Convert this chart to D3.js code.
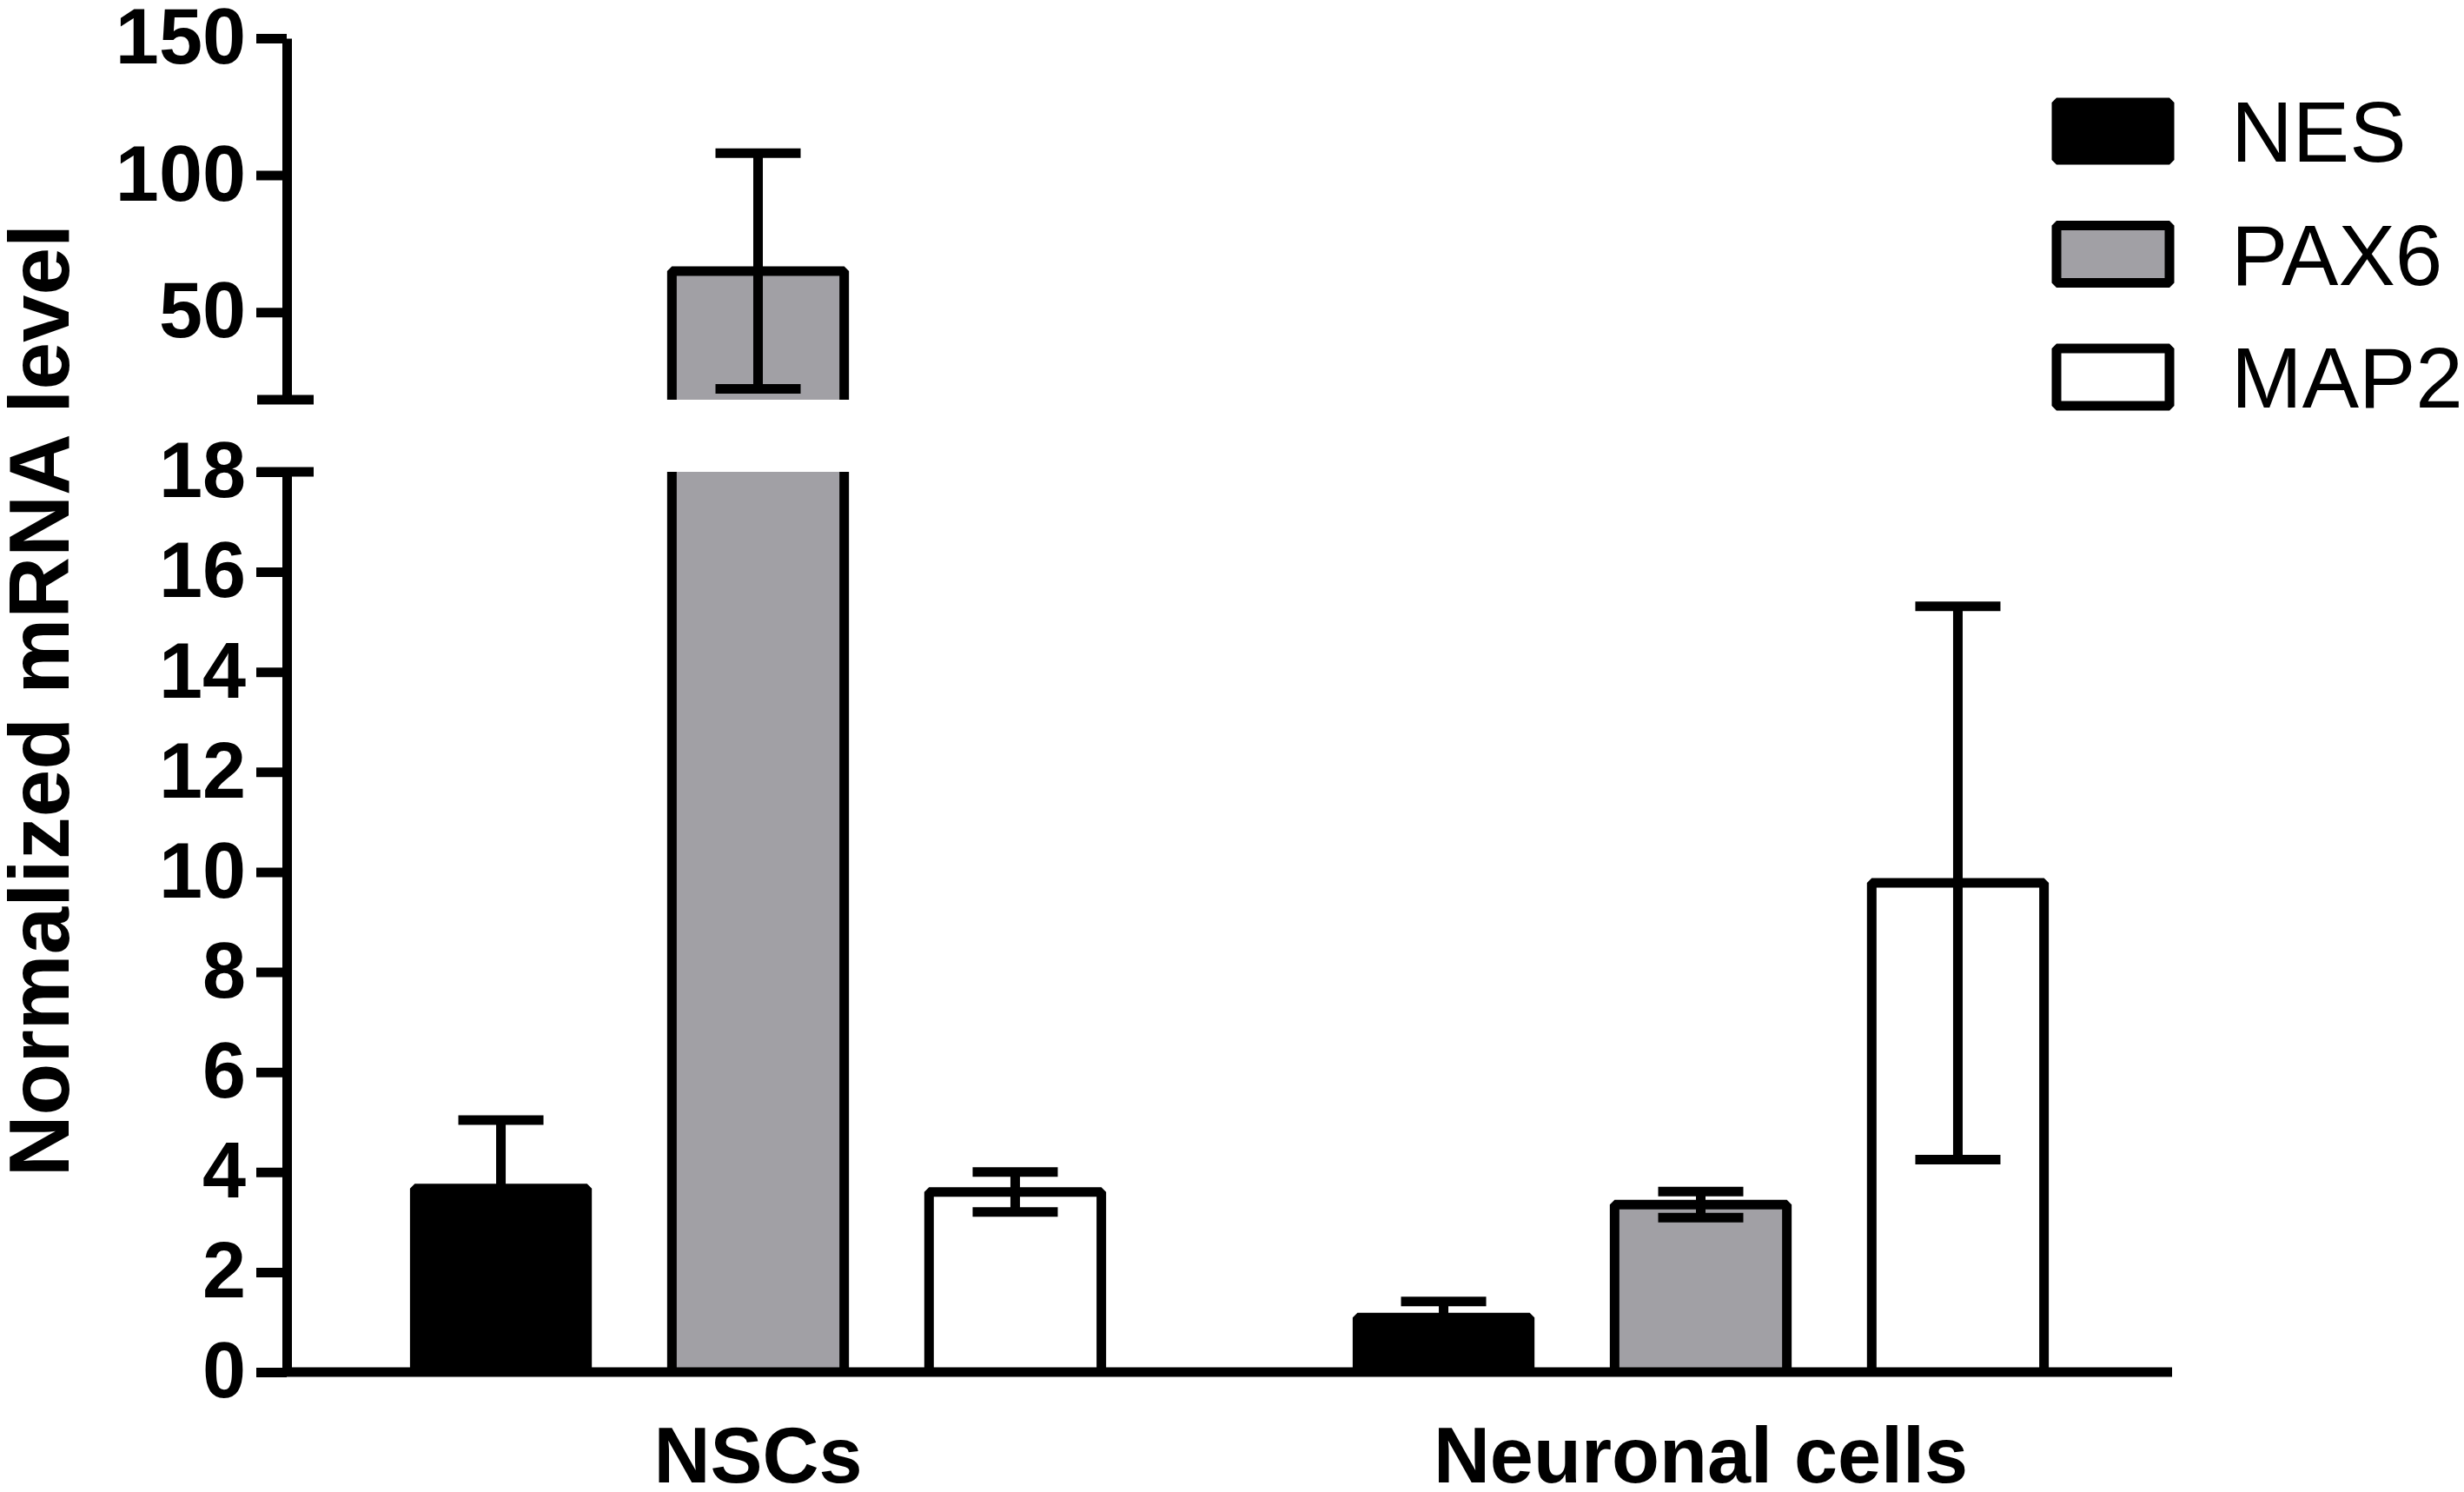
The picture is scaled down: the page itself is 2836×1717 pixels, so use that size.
<!DOCTYPE html>
<html>
<head>
<meta charset="utf-8">
<script src="https://cdnjs.cloudflare.com/ajax/libs/d3/7.8.5/d3.min.js"></script>
<style>
	body { margin: 0; background: #fff; }
	text { font-family: "Liberation Sans", Arial, Helvetica, sans-serif; }
</style>
</head>
<body>
<script>
	// data
	let groups = ["NSCs", "Neuronal cells"];
	let genes = ["NES", "PAX6", "MAP2"];
	let nesMean = [3.67, 1.09];
	let nesSd = [1.37, 0.32];
	let pax6Mean = [65, 3.35];
	let pax6Sd = [43, 0.26];
	let map2Mean = [3.6, 9.78];
	let map2Sd = [0.40, 5.53];
	let lowerTicks = [0, 2, 4, 6, 8, 10, 12, 14, 16, 18];
	let upperTicks = [50, 100, 150];
	let lowerRange = [0, 18];
	let upperRange = [18, 150];

	let width = 2836;
	let height = 1717;
	let axisX = 330;
	let lineW = 11;
	let fills = { NES: "#000000", PAX6: "#a1a0a5", MAP2: "#ffffff" };

	let data = genes.map(function(g) {
		let m = g === "NES" ? nesMean : g === "PAX6" ? pax6Mean : map2Mean;
		let s = g === "NES" ? nesSd : g === "PAX6" ? pax6Sd : map2Sd;
		return groups.map((grp, i) => ({ group: grp, gene: g, mean: m[i], sd: s[i] }));
	});
	let flat = d3.merge(data);

	let svg = d3.select("body").append("svg")
		.attr("width", width)
		.attr("height", height);

	/* Scales */
	let x0 = d3.scaleBand().domain(groups).range([axisX, 2500]).paddingInner(0).paddingOuter(0);
	let x1 = d3.scaleBand().domain(genes).range([0, x0.bandwidth()]).paddingInner(0.33).paddingOuter(0.498);
	let yLow = d3.scaleLinear().domain(lowerRange).range([1579, 543]);
	let yHigh = d3.scaleLinear().domain(upperRange).range([460, 44]);

	let segments = [
		{ y: yLow, min: lowerRange[0], max: lowerRange[1] },
		{ y: yHigh, min: upperRange[0], max: upperRange[1] }
	];

	/* Bars, cut at the axis break */
	let bars = svg.append("g").attr("class", "bars");
	segments.forEach(function(seg) {
		flat.filter(d => d.mean > seg.min).forEach(function(d) {
			let xa = x0(d.group) + x1(d.gene);
			let xb = xa + x1.bandwidth();
			let top = Math.min(d.mean, seg.max);
			let yt = seg.y(top);
			let yb = seg.y(seg.min);
			bars.append("rect")
				.attr("x", xa)
				.attr("y", yt)
				.attr("width", xb - xa)
				.attr("height", yb - yt)
				.attr("fill", fills[d.gene]);
			let p = d3.path();
			p.moveTo(xa, yb);
			p.lineTo(xa, yt);
			if (d.mean <= seg.max) p.lineTo(xb, yt);
			else p.moveTo(xb, yt);
			p.lineTo(xb, yb);
			bars.append("path")
				.attr("d", p.toString())
				.attr("fill", "none")
				.attr("stroke", "#000")
				.attr("stroke-width", lineW)
				.attr("stroke-linejoin", "bevel");
		});
	});

	/* Error bars (mean +/- SD) */
	let errs = svg.append("g").attr("class", "errors").attr("stroke", "#000").attr("stroke-width", lineW);
	let capHalf = 49;
	segments.forEach(function(seg) {
		flat.forEach(function(d) {
			let cx = x0(d.group) + x1(d.gene) + x1.bandwidth() / 2;
			let lo = d.mean - d.sd, hi = d.mean + d.sd;
			let a = Math.max(lo, seg.min), b = Math.min(hi, seg.max);
			if (a < b) {
				errs.append("line").attr("x1", cx).attr("x2", cx).attr("y1", seg.y(a)).attr("y2", seg.y(b));
			}
			[lo, hi].forEach(function(v) {
				if (v >= seg.min && v <= seg.max) {
					errs.append("line")
						.attr("x1", cx - capHalf).attr("x2", cx + capHalf)
						.attr("y1", seg.y(v)).attr("y2", seg.y(v));
				}
			});
		});
	});

	/* Axes */
	function styleAxis(g) {
		g.attr("font-size", 90)
			.attr("font-weight", "bold")
			.attr("font-family", "'Liberation Sans', Arial, Helvetica, sans-serif");
		g.selectAll("line").attr("stroke-width", lineW);
		g.select(".domain").attr("stroke-width", lineW);
		g.selectAll("text").attr("fill", "#000");
	}
	svg.append("g")
		.attr("class", "y axis lower")
		.attr("transform", `translate(${axisX},0)`)
		.call(d3.axisLeft(yLow).tickValues(lowerTicks).tickSize(35).tickSizeOuter(0).tickPadding(12))
		.call(styleAxis);
	svg.append("g")
		.attr("class", "y axis upper")
		.attr("transform", `translate(${axisX},0)`)
		.call(d3.axisLeft(yHigh).tickValues(upperTicks).tickSize(35).tickSizeOuter(0).tickPadding(12))
		.call(styleAxis);

	// break caps at both ends of the gap
	svg.append("g").attr("class", "break")
		.selectAll("line")
		.data([yLow(lowerRange[1]), yHigh(upperRange[0])])
		.enter().append("line")
		.attr("x1", axisX - 34).attr("x2", axisX + 31)
		.attr("y1", d => d).attr("y2", d => d)
		.attr("stroke", "#000")
		.attr("stroke-width", lineW);

	// x axis, no ticks
	svg.append("line")
		.attr("class", "x axis")
		.attr("x1", axisX).attr("x2", x0.range()[1])
		.attr("y1", yLow(0)).attr("y2", yLow(0))
		.attr("stroke", "#000")
		.attr("stroke-width", lineW);

	svg.append("g").attr("class", "x labels")
		.selectAll("text")
		.data(groups)
		.enter().append("text")
		.attr("x", d => x0(d) + x0.bandwidth() / 2)
		.attr("y", 1706)
		.attr("text-anchor", "middle")
		.attr("font-size", 90)
		.attr("font-weight", "bold")
		.text(d => d);

	svg.append("text")
		.attr("transform", "translate(79,806) rotate(-90)")
		.attr("text-anchor", "middle")
		.attr("font-size", 98)
		.attr("font-weight", "bold")
		.text("Normalized mRNA level");

	/* Legend */
	let legend = svg.append("g").attr("class", "legend")
		.selectAll("g")
		.data(genes)
		.enter().append("g")
		.attr("transform", (d, i) => `translate(2432,${151 + i * 141.5})`);
	legend.append("rect")
		.attr("x", -65).attr("y", -33)
		.attr("width", 130).attr("height", 66)
		.attr("fill", d => fills[d])
		.attr("stroke", "#000")
		.attr("stroke-width", lineW)
		.attr("stroke-linejoin", "bevel");
	legend.append("text")
		.attr("x", 136)
		.attr("y", 35)
		.attr("font-size", 98)
		.text(d => d);
</script>
</body>
</html>
